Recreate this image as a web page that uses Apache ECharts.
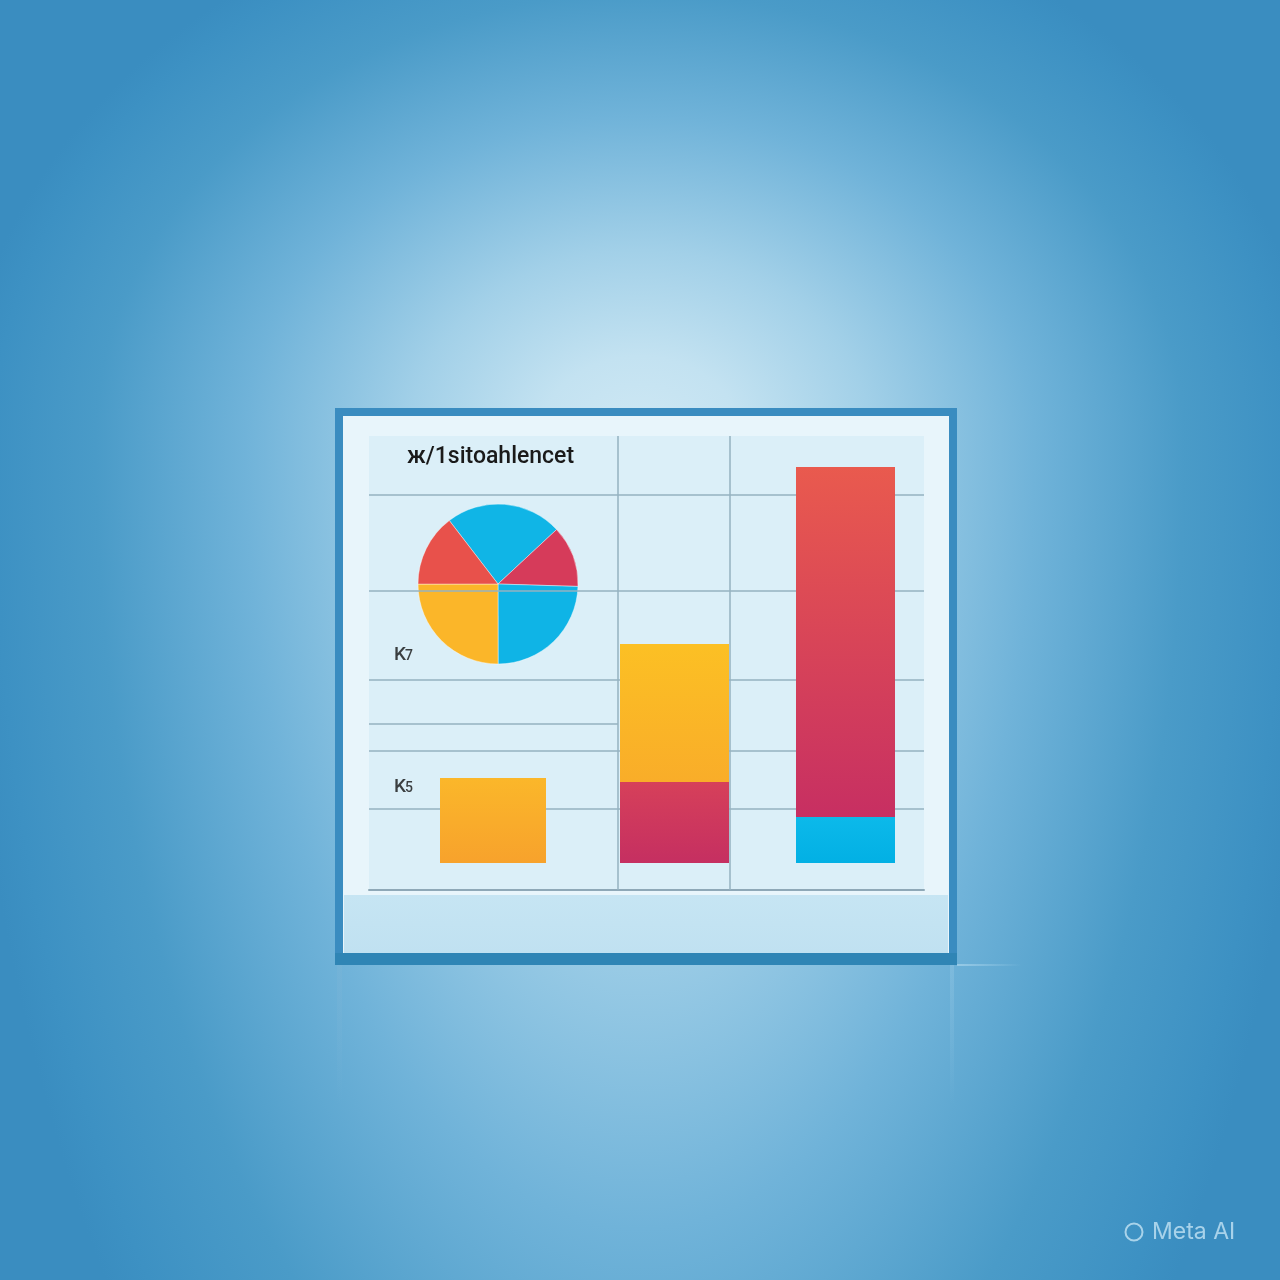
<!DOCTYPE html>
<html><head><meta charset="utf-8">
<script src="https://cdn.jsdelivr.net/npm/echarts@6/dist/echarts.min.js"></script>
<style>html,body{margin:0;padding:0;background:#3a8dc0;}#c{width:1280px;height:1280px;}</style>
</head><body><div id="c"></div>
<script>
// ---------- data ----------
const chartTitle = 'ж/1sitoahlencet';
const sideLabels = ['K7', 'K5'];
const sideLabelValues = [52, 19];
const pieNames = ['Blue A', 'Crimson', 'Blue B', 'Yellow', 'Red'];
const pieValues = [23.5, 12.4, 24.5, 25.0, 14.6];
const barCategories = ['A', 'B', 'C'];
const lowerValues = [21.25, 20.25, 11.5];
const upperValues = [null, 34.5, 87.5];
const gridLineValues = [92, 68, 45.75, 28, 13.5];
const partialLineValue = 34.75;
const verticalLineValues = [44.86, 65.05];
const yMin = -6.75, yMax = 106.75;

// ---------- styles ----------
const lineColor = '#94b2c1';
function vgrad(a, b) { return {type:'linear', x:0, y:0, x2:0, y2:1, colorStops:[{offset:0,color:a},{offset:1,color:b}]}; }
const lowerColors = [vgrad('#fbb72a', '#f7a22c'), vgrad('#d6405a', '#c52f61'), vgrad('#0cb9ea', '#02b0e4')];
const upperColors = [null, vgrad('#fcc024', '#f9ad29'), vgrad('#e95a4e', '#c72f62')];
const pieColors = ['#10b5e6', '#d63b5a', '#0fb4e6', '#fbb629', '#e8514b'];
const bgStops = [
  {offset:0, color:'#cfe8f4'}, {offset:0.15, color:'#c3e2f1'}, {offset:0.34, color:'#a2d0e8'},
  {offset:0.58, color:'#70b3d9'}, {offset:0.8, color:'#4a9bc8'}, {offset:0.95, color:'#3d91c3'}, {offset:1, color:'#3a8dc0'}];
function bgFill() { return {type:'radial', x:640, y:0, r:680, global:true, colorStops:bgStops}; }

const chart = echarts.init(document.getElementById('c'), null, {width:1280, height:1280});

const grids = [{left:369, top:436, width:555, height:454, show:true, backgroundColor:'#dbeff8', borderWidth:0}];
const barLayout = [[440,106],[620,109],[796,99]];
barLayout.forEach(b => grids.push({left:b[0], top:436, width:b[1], height:454}));

const xAxes = [{gridIndex:0, type:'value', min:0, max:100, axisLine:{show:true, onZero:false, lineStyle:{color:'#8ea8b7', width:2}}, axisTick:{show:false}, axisLabel:{show:false}, splitLine:{show:false}}];
const yAxes = [{gridIndex:0, type:'value', min:yMin, max:yMax, show:false, splitLine:{show:false}}];
barCategories.forEach((c, i) => {
  xAxes.push({gridIndex:i+1, type:'category', data:[c], show:false});
  yAxes.push({gridIndex:i+1, type:'value', min:yMin, max:yMax, show:false, splitLine:{show:false}});
});

const markData = gridLineValues.map(v => ({yAxis:v}));
markData.push([{coord:[0, partialLineValue]}, {coord:[verticalLineValues[0], partialLineValue]}]);
verticalLineValues.forEach(v => markData.push({xAxis:v}));

const series = [{
  type:'scatter', xAxisIndex:0, yAxisIndex:0, symbolSize:0, silent:true, z:3,
  data: sideLabels.map((t, i) => [4.5, sideLabelValues[i], t]),
  label:{show:true, position:'right', distance:0,
    formatter: p => '{a|' + p.data[2][0] + '}{b|' + p.data[2].slice(1) + '}',
    rich:{a:{fontSize:19, fontWeight:500, color:'#111', fontFamily:'Roboto'}, b:{fontSize:14, fontWeight:500, color:'#111', fontFamily:'Roboto', padding:[3,0,0,-1]}}},
  markLine:{silent:true, symbol:['none','none'], label:{show:false}, animation:false,
    lineStyle:{color:lineColor, width:1.5, type:'solid'}, data:markData}
}, {
  type:'pie', center:[498, 584], radius:80, startAngle:127.5, clockwise:true, z:4, silent:true,
  label:{show:false}, labelLine:{show:false}, animation:false,
  itemStyle:{borderColor:'rgba(255,255,255,0.4)', borderWidth:1},
  data: pieNames.map((n, i) => ({name:n, value:pieValues[i], itemStyle:{color:pieColors[i]}}))
}];
barCategories.forEach((c, i) => {
  series.push({type:'bar', xAxisIndex:i+1, yAxisIndex:i+1, stack:'s'+i, barWidth:'100%', silent:true, z:5,
    data:[lowerValues[i]], itemStyle:{color:lowerColors[i]}, animation:false});
  if (upperValues[i] !== null) {
    series.push({type:'bar', xAxisIndex:i+1, yAxisIndex:i+1, stack:'s'+i, barWidth:'100%', silent:true, z:5,
      data:[upperValues[i]], itemStyle:{color:upperColors[i]}, animation:false});
  }
});

const wm = 'rgba(196,228,244,0.8)';
chart.setOption({
  animation:false,
  title:{text:chartTitle, left:407, top:446, padding:0, textStyle:{fontSize:23, fontWeight:500, color:'#1a1a1a', fontFamily:'Roboto'}},
  graphic:[
    // background: upper half-ellipse and lower (taller) half-ellipse
    {type:'group', x:0, y:440, scaleY:0.82, z:-10, silent:true, children:[
      {type:'rect', z:-10, silent:true, shape:{x:0, y:-545, width:1280, height:546}, style:{fill:bgFill()}}]},
    {type:'group', x:0, y:440, scaleY:2.0, z:-10, silent:true, children:[
      {type:'rect', z:-10, silent:true, shape:{x:0, y:0, width:1280, height:425}, style:{fill:bgFill()}}]},
    // reflection lines
    {type:'rect', z:-9, silent:true, shape:{x:337, y:965, width:5, height:140},
      style:{fill:vgrad('rgba(120,180,215,0.5)','rgba(120,180,215,0)')}},
    {type:'rect', z:-9, silent:true, shape:{x:950, y:965, width:4, height:140},
      style:{fill:vgrad('rgba(150,200,228,0.4)','rgba(150,200,228,0)')}},
    {type:'rect', z:-9, silent:true, shape:{x:957, y:964, width:65, height:2},
      style:{fill:{type:'linear', x:0, y:0, x2:1, y2:0, colorStops:[{offset:0,color:'rgba(180,220,240,0.6)'},{offset:1,color:'rgba(180,220,240,0)'}]}}},
    // card
    {type:'rect', z:-5, silent:true, shape:{x:335, y:408, width:622, height:557}, style:{fill:'#3a8cc0'}},
    {type:'rect', z:-5, silent:true, shape:{x:335, y:953, width:622, height:12}, style:{fill:'#2f85b5'}},
    {type:'rect', z:-4, silent:true, shape:{x:343, y:416, width:606, height:537}, style:{fill:'#e8f5fb'}},
    {type:'rect', z:-3, silent:true, shape:{x:344, y:895, width:604, height:58}, style:{fill:vgrad('#c6e5f3','#c0e1f1')}},
    // watermark
    {type:'circle', z:10, silent:true, shape:{cx:1134, cy:1232, r:8.5}, style:{fill:'none', stroke:wm, lineWidth:2}},
    {type:'text', z:10, silent:true, x:1152, y:1232, style:{text:'Meta AI', fill:wm, font:'400 23px Inter', textVerticalAlign:'middle'}}
  ],
  grid:grids, xAxis:xAxes, yAxis:yAxes, series:series
});
</script></body></html>
